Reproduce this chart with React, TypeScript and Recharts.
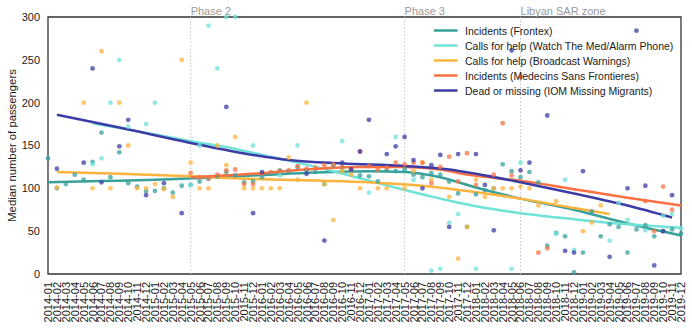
import React from 'react';
import {
  ComposedChart, Line, XAxis, YAxis, ReferenceLine, ReferenceArea, Legend
} from 'recharts';

// --- Categories ---
const YEARS = ['2014', '2015', '2016', '2017', '2018', '2019'];
const MONTH_NUMS = ['01', '02', '03', '04', '05', '06', '07', '08', '09', '10', '11', '12'];
const MONTHS = YEARS.flatMap((y) => MONTH_NUMS.map((m) => `${y}-${m}`));
const Y_TICKS = [0, 50, 100, 150, 200, 250, 300];

const PHASES: [string, string][] = [
  ['2015-05', 'Phase 2'],
  ['2017-05', 'Phase 3'],
  ['2018-06', 'Libyan SAR zone'],
];

// --- Monthly medians (scatter) ---
const FRONTEX: [string, number][] = [
  ['2014-01', 135], ['2014-02', 100], ['2014-03', 105], ['2014-04', 116], ['2014-05', 110], ['2014-06', 131],
  ['2014-07', 165], ['2014-08', 113], ['2014-09', 142], ['2014-10', 106], ['2014-11', 102], ['2014-12', 97],
  ['2015-01', 97], ['2015-02', 100], ['2015-03', 95], ['2015-04', 103], ['2015-05', 104], ['2015-06', 108],
  ['2015-07', 111], ['2015-08', 114], ['2015-09', 119], ['2015-10', 115], ['2015-11', 107], ['2015-12', 108],
  ['2016-01', 113], ['2016-02', 117], ['2016-03', 121], ['2016-04', 120], ['2016-05', 125], ['2016-06', 121],
  ['2016-07', 119], ['2016-08', 105], ['2016-09', 127], ['2016-10', 124], ['2016-11', 120], ['2016-12', 115],
  ['2017-01', 114], ['2017-02', 108], ['2017-03', 121], ['2017-04', 120], ['2017-05', 122], ['2017-06', 116],
  ['2017-07', 113], ['2017-08', 118], ['2017-09', 116], ['2017-10', 108], ['2017-11', 94], ['2017-12', 55],
  ['2018-01', 93], ['2018-02', 98], ['2018-03', 100], ['2018-04', 128], ['2018-05', 120], ['2018-06', 113],
  ['2018-07', 119], ['2018-08', 107], ['2018-09', 33], ['2018-10', 48], ['2018-11', 44], ['2018-12', 2],
  ['2019-01', 25], ['2019-02', 73], ['2019-03', 44], ['2019-04', 58], ['2019-05', 55], ['2019-06', 25],
  ['2019-07', 52], ['2019-08', 57], ['2019-09', 44], ['2019-10', 50], ['2019-11', 52], ['2019-12', 47],
];

const WTM: [string, number][] = [
  ['2014-06', 128], ['2014-07', 135], ['2014-08', 200], ['2014-09', 250], ['2014-10', 172], ['2014-12', 175],
  ['2015-01', 200], ['2015-05', 104], ['2015-06', 150], ['2015-07', 290], ['2015-08', 240], ['2015-09', 300],
  ['2015-10', 300], ['2015-12', 150], ['2016-03', 115], ['2016-05', 150], ['2016-10', 155], ['2017-01', 95],
  ['2017-04', 160], ['2017-06', 110], ['2017-08', 4], ['2017-09', 6], ['2017-10', 60], ['2017-11', 70],
  ['2018-01', 6], ['2018-05', 6], ['2018-06', 130], ['2018-10', 47], ['2018-11', 110], ['2018-12', 28],
  ['2019-04', 39], ['2019-05', 83], ['2019-06', 63], ['2019-08', 51], ['2019-10', 68], ['2019-11', 70],
  ['2019-12', 53],
];

const BROADCAST: [string, number][] = [
  ['2014-02', 101], ['2014-05', 200], ['2014-06', 100], ['2014-07', 260], ['2014-08', 100], ['2014-09', 200],
  ['2014-10', 150], ['2014-11', 100], ['2014-12', 100], ['2015-01', 105], ['2015-02', 99], ['2015-03', 90],
  ['2015-04', 250], ['2015-05', 130], ['2015-06', 100], ['2015-07', 100], ['2015-08', 150], ['2015-09', 127],
  ['2015-10', 160], ['2015-11', 100], ['2015-12', 100], ['2016-01', 100], ['2016-02', 100], ['2016-03', 100],
  ['2016-04', 136], ['2016-05', 110], ['2016-06', 200], ['2016-08', 105], ['2016-09', 63], ['2016-10', 120],
  ['2016-11', 116], ['2016-12', 100], ['2017-02', 100], ['2017-03', 100], ['2017-05', 100], ['2017-06', 120],
  ['2017-07', 130], ['2017-08', 110], ['2017-10', 90], ['2017-11', 18], ['2017-12', 55], ['2018-01', 110],
  ['2018-02', 90], ['2018-03', 100], ['2018-04', 100], ['2018-05', 100], ['2018-06', 102], ['2018-07', 100],
  ['2018-08', 80], ['2018-10', 85], ['2019-01', 50], ['2019-02', 60], ['2019-03', 80],
];

const MSF: [string, number][] = [
  ['2015-05', 118], ['2015-06', 113], ['2015-07', 112], ['2015-08', 116], ['2015-09', 121], ['2015-10', 122],
  ['2015-11', 105], ['2015-12', 105], ['2016-01', 117], ['2016-02', 119], ['2016-03', 120], ['2016-04', 121],
  ['2016-05', 126], ['2016-06', 123], ['2016-07', 124], ['2016-08', 127], ['2016-09', 128], ['2016-10', 125],
  ['2016-11', 122], ['2016-12', 143], ['2017-01', 126], ['2017-02', 122], ['2017-03', 124], ['2017-04', 130],
  ['2017-05', 128], ['2017-06', 130], ['2017-07', 130], ['2017-08', 106], ['2017-09', 125], ['2017-10', 137],
  ['2017-11', 108], ['2017-12', 141], ['2018-01', 104], ['2018-03', 116], ['2018-04', 176], ['2018-05', 115],
  ['2018-06', 230], ['2018-08', 25], ['2018-09', 30], ['2019-08', 85], ['2019-09', 50], ['2019-10', 102],
  ['2019-11', 75],
];

const IOM: [string, number][] = [
  ['2014-02', 123], ['2014-05', 130], ['2014-06', 240], ['2014-07', 107], ['2014-09', 149], ['2014-10', 180],
  ['2014-12', 92], ['2015-02', 106], ['2015-04', 71], ['2015-09', 195], ['2015-12', 71], ['2016-01', 119],
  ['2016-06', 117], ['2016-08', 39], ['2016-10', 130], ['2016-11', 122], ['2016-12', 143], ['2017-01', 180],
  ['2017-03', 140], ['2017-04', 149], ['2017-05', 160], ['2017-06', 133], ['2017-07', 100], ['2017-08', 127],
  ['2017-09', 139], ['2017-10', 55], ['2017-11', 140], ['2018-01', 140], ['2018-02', 104], ['2018-03', 51],
  ['2018-05', 261], ['2018-06', 121], ['2018-07', 130], ['2018-09', 185], ['2018-11', 27], ['2018-12', 25],
  ['2019-01', 120], ['2019-04', 20], ['2019-06', 100], ['2019-07', 284], ['2019-08', 103], ['2019-09', 10],
  ['2019-10', 50], ['2019-11', 92],
];

// --- Smoothed trend lines ---
const FRONTEX_FIT: [string, number][] = [
  ['2014-01', 107], ['2014-07', 108.5], ['2015-01', 110], ['2015-07', 112.5], ['2016-01', 115.5],
  ['2016-07', 118.5], ['2017-01', 120], ['2017-05', 119], ['2017-09', 113], ['2018-01', 101],
  ['2018-06', 88], ['2018-12', 75], ['2019-06', 59], ['2019-12', 45],
];
const WTM_FIT: [string, number][] = [
  ['2014-06', 176], ['2015-01', 163], ['2015-05', 155], ['2015-10', 146], ['2016-01', 139],
  ['2016-05', 130], ['2016-09', 120], ['2017-01', 109], ['2017-05', 98], ['2017-09', 88],
  ['2018-01', 79], ['2018-06', 71], ['2018-12', 64], ['2019-06', 58], ['2019-12', 54],
];
const BROADCAST_FIT: [string, number][] = [
  ['2014-02', 119], ['2014-09', 117], ['2015-05', 114], ['2015-12', 111], ['2016-07', 109],
  ['2017-01', 107], ['2017-06', 104], ['2017-12', 97], ['2018-06', 88], ['2018-12', 77], ['2019-04', 70],
];
const MSF_FIT: [string, number][] = [
  ['2015-05', 113], ['2015-12', 117], ['2016-06', 122], ['2016-12', 125], ['2017-05', 125],
  ['2017-09', 122], ['2017-12', 116], ['2018-06', 109], ['2018-12', 99], ['2019-06', 89], ['2019-12', 80],
];
const IOM_FIT: [string, number][] = [
  ['2014-02', 186], ['2014-09', 171], ['2015-05', 153], ['2015-12', 139], ['2016-04', 133],
  ['2016-10', 129], ['2017-05', 126], ['2017-10', 122], ['2018-01', 117], ['2018-06', 107],
  ['2018-12', 94], ['2019-06', 80], ['2019-11', 66],
];

const SERIES = [
  { key: 'frontex', name: 'Incidents (Frontex)', color: '#38a09a', points: FRONTEX, fit: FRONTEX_FIT },
  { key: 'wtm', name: 'Calls for help (Watch The Med/Alarm Phone)', color: '#6fe3d8', points: WTM, fit: WTM_FIT },
  { key: 'bw', name: 'Calls for help (Broadcast Warnings)', color: '#fdb33c', points: BROADCAST, fit: BROADCAST_FIT },
  { key: 'msf', name: 'Incidents (Medecins Sans Frontieres)', color: '#fb7142', points: MSF, fit: MSF_FIT },
  { key: 'iom', name: 'Dead or missing (IOM Missing Migrants)', color: '#3c3ca6', points: IOM, fit: IOM_FIT },
];

const lookup = (list: [string, number][], m: string) => {
  const hit = list.find((p) => p[0] === m);
  return hit ? hit[1] : null;
};

const data = MONTHS.map((m) => {
  const row: any = { month: m };
  SERIES.forEach((s) => {
    row[s.key] = lookup(s.points, m);
    row[s.key + 'Fit'] = lookup(s.fit, m);
  });
  return row;
});

const FONT = '"Liberation Sans", Arial, Helvetica, sans-serif';

const MonthTick = ({ x, y, payload }: any) => (
  <g transform={`translate(${x},${y})`}>
    <text transform="rotate(-90)" textAnchor="end" dy="0.36em" fontSize={11} fill="#1a1a1a">
      {payload.value}
    </text>
  </g>
);

const phaseLabel = (text: string) => (props: any) => {
  const vb = props.viewBox || props;
  return (
    <text x={vb.x} y={vb.y - 2} fontSize={11} fill="#9a9a9a">
      {text}
    </text>
  );
};

const yTitle = (props: any) => {
  const vb = props.viewBox || props;
  const cy = vb.y + vb.height / 2;
  return (
    <text x={15.5} y={cy} transform={`rotate(-90, 15.5, ${cy})`} textAnchor="middle" fontSize={11.3} fill="#1a1a1a">
      Median number of passengers
    </text>
  );
};

const LegendBox = () => (
  <div style={{ fontFamily: FONT, fontSize: 10.5, color: '#1a1a1a' }}>
    {SERIES.map((s) => (
      <div key={s.key} style={{ display: 'flex', alignItems: 'center', height: 15, whiteSpace: 'nowrap' }}>
        <svg width={24} height={15} style={{ marginRight: 7 }}>
          <line x1={0} y1={7.5} x2={23.5} y2={7.5} stroke={s.color} strokeWidth={2.5} />
        </svg>
        <span>{s.name}</span>
      </div>
    ))}
  </div>
);

export default function App() {
  return (
    <div style={{ position: 'absolute', left: 0, top: 0, width: 692, height: 329, background: '#fff', fontFamily: FONT }}>
      <ComposedChart width={692} height={329} data={data} margin={{ top: 17, right: 11, bottom: 0, left: 0 }}>
        <XAxis
          dataKey="month"
          interval={0}
          height={55}
          tick={<MonthTick />}
          tickLine={false}
          axisLine={false}
        />
        <YAxis
          type="number"
          domain={[0, 300]}
          ticks={Y_TICKS}
          width={48}
          tickLine={false}
          axisLine={false}
          tick={{ fontSize: 11, fill: '#1a1a1a' }}
          label={yTitle}
        />
        {PHASES.map(([m, text]) => (
          <ReferenceLine
            key={m}
            x={m}
            stroke="#c4c4c4"
            strokeDasharray="1.5 2"
            strokeWidth={1}
            label={phaseLabel(text)}
          />
        ))}
        {SERIES.map((s) => (
          <Line
            key={s.key}
            dataKey={s.key}
            stroke="none"
            legendType="none"
            dot={{ r: 2.4, fill: s.color, fillOpacity: 0.75, stroke: 'none' }}
            activeDot={false}
            isAnimationActive={false}
          />
        ))}
        {SERIES.map((s) => (
          <Line
            key={s.key + 'Fit'}
            dataKey={s.key + 'Fit'}
            name={s.name}
            type="monotone"
            stroke={s.color}
            strokeWidth={2.5}
            dot={false}
            activeDot={false}
            connectNulls
            isAnimationActive={false}
          />
        ))}
        <ReferenceArea
          x1="2014-01"
          x2="2019-12"
          y1={0}
          y2={300}
          fill="none"
          stroke="#333"
          strokeWidth={1.3}
        />
        <Legend
          layout="vertical"
          align="center"
          verticalAlign="middle"
          content={<LegendBox />}
          wrapperStyle={{ position: 'absolute', left: 434, top: 23, width: 250 }}
        />
      </ComposedChart>
    </div>
  );
}
